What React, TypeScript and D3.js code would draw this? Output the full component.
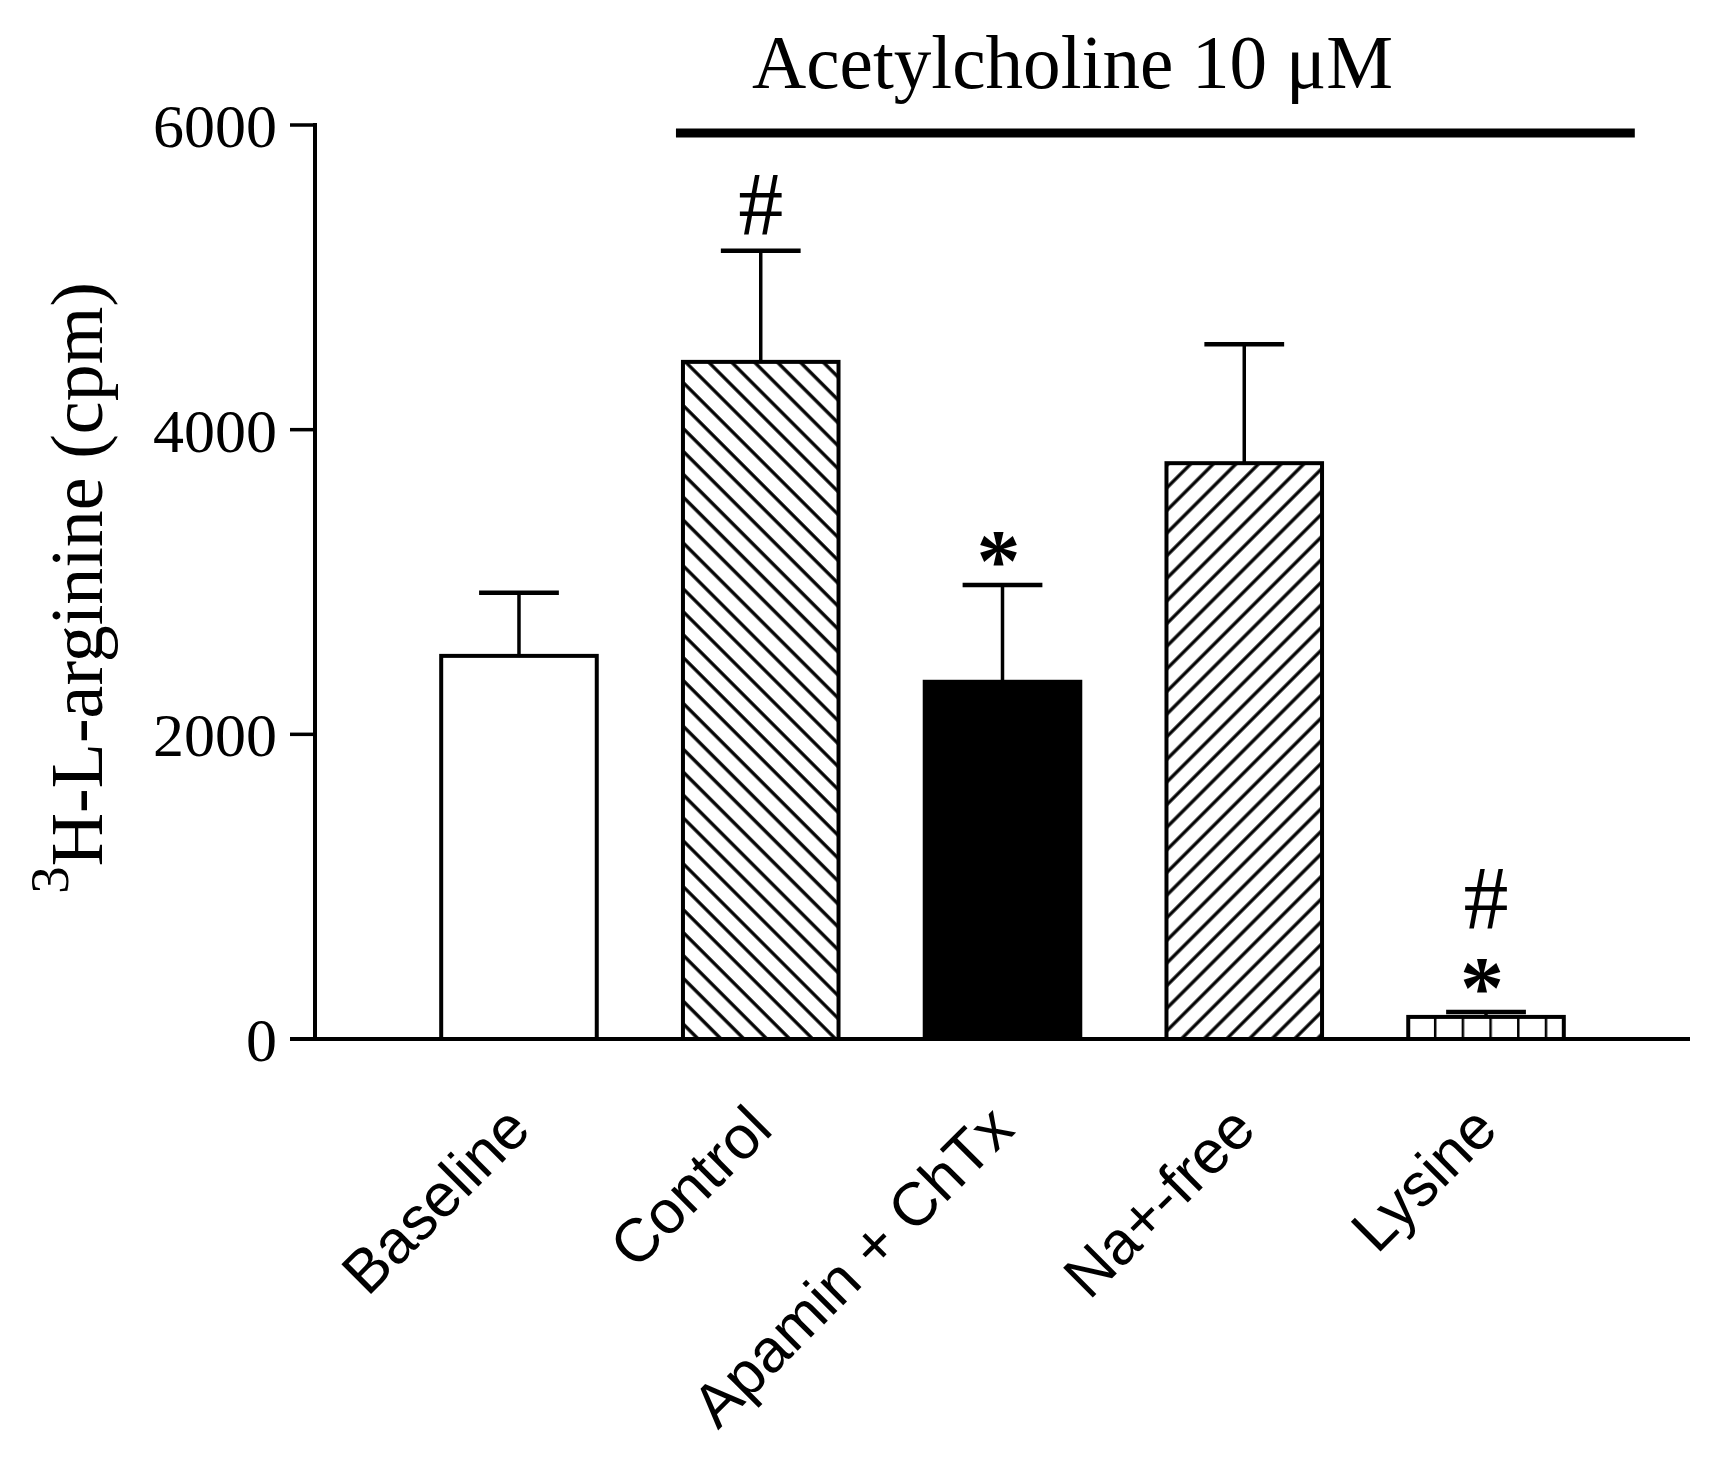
import React from "react";
import * as d3 from "d3";

const categories = ["Baseline", "Control", "Apamin + ChTx", "Na+-free", "Lysine"];
const means = [2515, 4445, 2345, 3780, 145];
const sems = [415, 730, 635, 780, 33];
const markers = [[], ["#"], ["*"], [], ["*", "#"]];
const yTicks = [0, 2000, 4000, 6000];
const titleText = "Acetylcholine 10 μM";

const barFills = ["white", "url(#hatchBack)", "black", "url(#hatchFwd)", "url(#gridPat)"];

const W = 1725;
const H = 1459;
const serif = "'Liberation Serif', 'Times New Roman', serif";
const sans = "'Liberation Sans', Arial, sans-serif";

export default function App() {
  const x = d3.scaleBand<string>().domain(categories).range([357, 1648]).paddingInner(0.34).paddingOuter(0.34);
  const y = d3.scaleLinear().domain([0, 6000]).range([1039, 125]);
  const bw = x.bandwidth();
  const axisX = 315;
  const y0 = y(0);

  return (
    <div style={{ position: "absolute", left: 0, top: 0 }}>
      <svg width={W} height={H} viewBox={`0 0 ${W} ${H}`} style={{ display: "block", background: "white" }}>
        <defs>
          <pattern id="hatchBack" patternUnits="userSpaceOnUse" width={16.2} height={20} patternTransform="rotate(-45)">
            <line x1={2} y1={-5} x2={2} y2={25} stroke="black" strokeWidth={3.3} />
          </pattern>
          <pattern id="hatchFwd" patternUnits="userSpaceOnUse" width={16} height={20} patternTransform="rotate(45)">
            <line x1={2} y1={-5} x2={2} y2={25} stroke="black" strokeWidth={3.3} />
          </pattern>
          <pattern id="gridPat" patternUnits="userSpaceOnUse" x={x("Lysine")!} y={0} width={27.7} height={27.7}>
            <line x1={0} y1={-2} x2={0} y2={30} stroke="black" strokeWidth={5} />
          </pattern>
        </defs>

        {/* bars */}
        {categories.map((c, i) => (
          <rect
            key={c}
            x={x(c)! + 2}
            y={y(means[i])}
            width={bw - 4}
            height={y0 - y(means[i])}
            fill={barFills[i]}
            stroke="black"
            strokeWidth={4}
          />
        ))}

        {/* error bars */}
        {categories.map((c, i) => {
          const cx = x(c)! + bw / 2;
          const top = y(means[i] + sems[i]);
          return (
            <g key={c + "err"}>
              <line x1={cx} x2={cx} y1={y(means[i])} y2={top} stroke="black" strokeWidth={3.5} />
              <line x1={cx - bw / 4} x2={cx + bw / 4} y1={top} y2={top} stroke="black" strokeWidth={4.5} />
            </g>
          );
        })}

        {/* significance markers */}
        {categories.map((c, i) => {
          const cx = x(c)! + bw / 2;
          const top = y(means[i] + sems[i]);
          const hasStar = markers[i].includes("*");
          return (
            <g key={c + "mk"}>
              {markers[i].map((m, k) =>
                m === "*" ? (
                  <text key={k} x={cx - 4} y={top + 5} fontFamily={serif} fontWeight="bold" fontSize={88} textAnchor="middle">
                    *
                  </text>
                ) : (
                  <text key={k} x={cx} y={hasStar ? top - 83 : top - 16} fontFamily={serif} fontSize={90} textAnchor="middle">
                    #
                  </text>
                )
              )}
            </g>
          );
        })}

        {/* y axis */}
        <line x1={axisX} x2={axisX} y1={y(6000) - 2} y2={y0 + 2} stroke="black" strokeWidth={4} />
        {yTicks.map((t) => (
          <g key={t}>
            <line x1={axisX - 25} x2={axisX} y1={y(t)} y2={y(t)} stroke="black" strokeWidth={3.5} />
            <text x={277} y={y(t) + 22} fontFamily={serif} fontSize={62} textAnchor="end">
              {t}
            </text>
          </g>
        ))}

        {/* x axis */}
        <line x1={axisX - 25} x2={1690} y1={y0} y2={y0} stroke="black" strokeWidth={4} />

        {/* x labels */}
        {categories.map((c) => {
          const px = x(c)! + bw / 2 + 14;
          const py = y0 + 93;
          return (
            <text key={c + "lbl"} x={px} y={py} transform={`rotate(-45, ${px}, ${py})`} fontFamily={sans} fontSize={61} textAnchor="end">
              {c}
            </text>
          );
        })}

        {/* y label */}
        <text transform={`translate(102, 588) rotate(-90)`} fontFamily={serif} fontSize={74} textAnchor="middle">
          <tspan fontSize={55} dy={-34}>3</tspan>
          <tspan dy={34}>H-L-arginine (cpm)</tspan>
        </text>

        {/* treatment line and title */}
        <line x1={x("Control")! - 5} x2={x("Lysine")! + bw + 69} y1={133} y2={133} stroke="black" strokeWidth={9} />
        <text x={752} y={88} fontFamily={serif} fontSize={76} textLength={641} lengthAdjust="spacingAndGlyphs">
          {titleText}
        </text>
      </svg>
    </div>
  );
}
